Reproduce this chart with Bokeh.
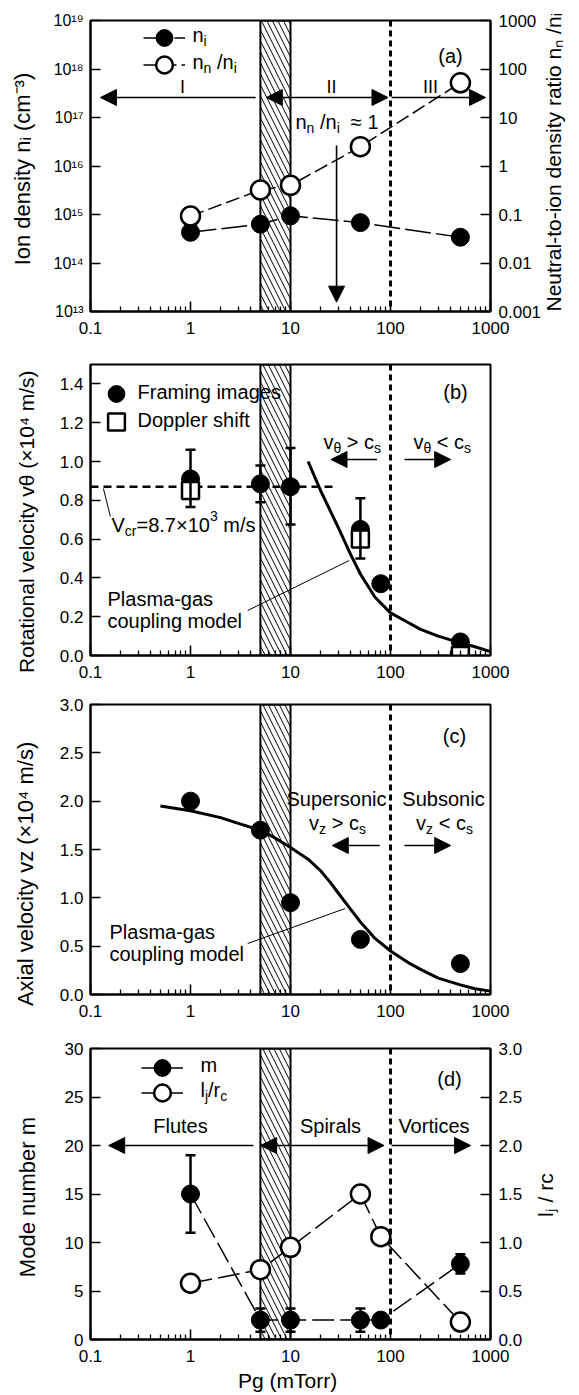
import math
from bokeh.plotting import figure
from bokeh.models import (Range1d, LogScale, LogAxis, LinearAxis, FixedTicker,
                          CustomJSTickFormatter, PrintfTickFormatter, Span, Arrow,
                          NormalHead, Label, Legend, LegendItem, Whisker, TeeHead,
                          ColumnDataSource)
from bokeh.core.properties import value
from bokeh.layouts import column
from bokeh.embed import file_html
from bokeh.resources import INLINE

FONT = "Liberation Sans"
NB = "\u00a0"

# ----------------------------- data -----------------------------
x_major_ticks = [0.1, 1, 10, 100, 1000]
x_minor_ticks = [m * d for d in (0.1, 1, 10, 100) for m in range(2, 10)]
transition_band = [5, 10]
cs_boundary = 100

# (a)
pa_pressure = [1, 5, 10, 50, 500]
pa_ion_density = [4.3e14, 6.3e14, 9.4e14, 6.8e14, 3.4e14]
pa_neutral_ratio = [0.093, 0.32, 0.40, 2.5, 52]
pa_left_ticks = [1e13, 1e14, 1e15, 1e16, 1e17, 1e18, 1e19]
pa_right_ticks = [0.001, 0.01, 0.1, 1, 10, 100, 1000]

# (b)
pb_pressure = [1, 5, 10, 50, 80, 500]
pb_v_framing = [0.91, 0.885, 0.87, 0.65, 0.37, 0.07]
pb_err_pressure = [1, 5, 10, 50]
pb_err_upper = [1.06, 0.98, 1.07, 0.81]
pb_err_lower = [0.765, 0.79, 0.675, 0.50]
pb_dop_pressure = [1, 50, 500]
pb_v_doppler = [0.85, 0.60, 0.0]
pb_model_pressure = [15, 20, 30, 40, 50, 70, 100, 150, 200, 300, 500, 700, 1000]
pb_model_v = [1.00, 0.85, 0.66, 0.52, 0.42, 0.30, 0.22, 0.17, 0.135, 0.10, 0.065, 0.045, 0.02]
pb_vcr = 0.87
pb_vcr_span = [0.1, 28]
pb_ticks = [0.0, 0.2, 0.4, 0.6, 0.8, 1.0, 1.2, 1.4]

# (c)
pc_pressure = [1, 5, 10, 50, 500]
pc_v_axial = [2.0, 1.7, 0.95, 0.57, 0.32]
pc_model_pressure = [0.5, 1, 2, 3, 5, 7, 10, 15, 20, 25, 30, 40, 50, 70, 100, 150, 200,
                     300, 500, 700, 1000]
pc_model_v = [1.95, 1.90, 1.83, 1.77, 1.70, 1.62, 1.52, 1.40, 1.28, 1.16, 1.05, 0.88, 0.75,
              0.58, 0.45, 0.33, 0.26, 0.17, 0.10, 0.06, 0.035]
pc_ticks = [0.0, 0.5, 1.0, 1.5, 2.0, 2.5, 3.0]

# (d)
pd_pressure = [1, 5, 10, 50, 80, 500]
pd_mode = [15, 2, 2, 2, 2, 7.8]
pd_err_pressure = [1, 5, 10, 50, 500]
pd_err_upper = [19, 3.2, 3.2, 3.2, 8.8]
pd_err_lower = [11, 0.8, 0.8, 0.8, 6.8]
pd_lj_rc = [0.58, 0.72, 0.95, 1.5, 1.06, 0.18]
pd_left_ticks = [0, 5, 10, 15, 20, 25, 30]
pd_right_ticks = [0.0, 0.5, 1.0, 1.5, 2.0, 2.5, 3.0]

# ----------------------------- layout helpers -----------------------------
FL = 90      # canvas x of frame left
FW = 402     # frame width
FIG_W = 579

W = {' ': 278, '(': 333, ')': 333, '-': 333, '.': 278, '/': 278, ',': 278,
     '=': 584, '<': 584, '>': 584, '×': 584, '≈': 584, 'θ': 556}
for ch in '0123456789':
    W[ch] = 556
W.update(dict(zip('abcdefghijklmnopqrstuvwxyz',
                  [556, 556, 500, 556, 556, 278, 556, 556, 222, 222, 500, 222, 833,
                   556, 556, 556, 556, 333, 500, 278, 556, 500, 722, 500, 500, 500])))
W.update(dict(zip('ABCDEFGHIJKLMNOPQRSTUVWXYZ',
                  [667, 667, 722, 722, 667, 611, 778, 722, 278, 500, 667, 556, 833,
                   722, 778, 667, 778, 722, 667, 611, 722, 667, 944, 667, 667, 611])))


def tw(s, fs):
    return sum(W.get(c, 556) for c in s) * fs / 1000.0


def rich(p, geo, parts, x, y, size=20, align="left", ratio=0.7):
    """Composite horizontal text with sub/superscripts inside the frame.
    x per align, y = centre of capitals (canvas pixels)."""
    FT, H = geo[0], geo[1]
    segs = []
    for t, k in parts:
        fs = size * ratio if k else size
        segs.append((t, k, fs, tw(t, fs)))
    L = sum(s[3] for s in segs)
    pos = {"left": 0.0, "center": -L / 2, "right": -L}[align]
    for t, k, fs, w in segs:
        up = {"": 0.0, "sub": -0.3 * size, "sup": 0.45 * size}[k]
        lead = len(t) - len(t.lstrip(" "))
        txt = t.strip(" ")
        px = x + pos + tw(" " * lead, fs)
        py = y - 0.09 * size - up
        if txt:
            p.add_layout(Label(x=px - FL, y=FT + H - py, x_units="screen", y_units="screen",
                               text=txt, text_font=FONT, text_font_size=f"{fs:.1f}px",
                               text_align="left", text_baseline="alphabetic",
                               text_color="black"))
        pos += w


def page_to_data(geo, px, py):
    FT, H, ylo, yhi, ylog = geo
    fx = (px - FL) / FW
    x = 10 ** (-1 + 4 * fx)
    fy = (FT + H - py) / H
    if ylog:
        y = 10 ** (math.log10(ylo) + fy * (math.log10(yhi) - math.log10(ylo)))
    else:
        y = ylo + fy * (yhi - ylo)
    return x, y


def head():
    return NormalHead(size=16, fill_color="black", line_color="black", line_width=1)


def arrow(p, geo, p0, p1, start=False, end=True, lw=1.6):
    x0, y0 = page_to_data(geo, *p0)
    x1, y1 = page_to_data(geo, *p1)
    p.add_layout(Arrow(x_start=x0, y_start=y0, x_end=x1, y_end=y1,
                       line_color="black", line_width=lw,
                       start=head() if start else None, end=head() if end else None))


def key(p, geo, renderers, cx, cy, gw=42, gh=45):
    FT, H = geo[0], geo[1]
    vx = cx - FL - gw / 2
    vy = (FT + H) - (cy + gh / 2)
    lg = Legend(items=[LegendItem(label=value(" "), renderers=renderers)],
                location=(vx, vy), orientation="vertical", padding=0, margin=0,
                spacing=0, glyph_width=gw, glyph_height=gh, label_height=gh,
                label_standoff=0, border_line_color=None, background_fill_alpha=0,
                label_text_font=FONT, label_text_font_size="4px")
    p.add_layout(lg)


plain_fmt = CustomJSTickFormatter(code="return String(+tick.toPrecision(6));")
pow_fmt = CustomJSTickFormatter(code="""
const s = {"0":"\u2070","1":"\u00b9","2":"\u00b2","3":"\u00b3","4":"\u2074",
           "5":"\u2075","6":"\u2076","7":"\u2077","8":"\u2078","9":"\u2079","-":"\u207b"};
const e = Math.round(Math.log10(tick));
return "10" + String(e).split("").map(c => s[c]).join("");
""")


def style_axis(ax, minor=True, standoff=8, fmt=None, ticks=None, minor_ticks=None,
               label=None, label_standoff=10, bottom_up=False, label_size="22px"):
    ax.axis_line_color = "black"
    ax.axis_line_width = 2
    ax.major_tick_in = 10
    ax.major_tick_out = 0
    ax.major_tick_line_color = "black"
    ax.major_tick_line_width = 1.6
    ax.minor_tick_in = 5
    ax.minor_tick_out = 0
    ax.minor_tick_line_width = 1.3
    ax.minor_tick_line_color = "black" if minor else None
    ax.major_label_text_font = FONT
    ax.major_label_text_font_size = "17px"
    ax.major_label_text_color = "black"
    ax.major_label_standoff = standoff
    if ticks is not None:
        ax.ticker = FixedTicker(ticks=ticks, minor_ticks=minor_ticks or [])
    if fmt is not None:
        ax.formatter = fmt
    if label is not None:
        ax.axis_label = label
        ax.axis_label_text_font = FONT
        ax.axis_label_text_font_size = label_size
        ax.axis_label_text_font_style = "normal"
        ax.axis_label_text_color = "black"
        ax.axis_label_standoff = label_standoff
        if bottom_up:
            try:
                ax.axis_label_orientation = math.pi / 2
            except Exception:
                pass
            for v in ("start", "left"):
                try:
                    ax.axis_label_align = v
                    break
                except Exception:
                    continue


def make_panel(height, top, fh, y_range, y_log=False):
    p = figure(width=FIG_W, height=height, title=None,
               x_axis_type="log", y_axis_type="log" if y_log else "linear",
               x_range=Range1d(0.1, 1000), y_range=y_range,
               toolbar_location=None, output_backend="svg",
               min_border_left=FL, min_border_right=FIG_W - FL - FW,
               min_border_top=top, min_border_bottom=height - top - fh)
    p.xgrid.visible = False
    p.ygrid.visible = False
    p.outline_line_color = "black"
    p.outline_line_width = 2
    p.outline_line_alpha = 1
    p.background_fill_color = "white"
    p.border_fill_color = "white"
    style_axis(p.xaxis[0], minor=True, standoff=10, fmt=plain_fmt,
               ticks=x_major_ticks, minor_ticks=x_minor_ticks)
    # hatched transition band
    p.quad(left=[transition_band[0]], right=[transition_band[1]],
           bottom=[y_range.start], top=[y_range.end],
           fill_color=None, line_color="black", line_width=2,
           hatch_pattern="\\", hatch_color="black", hatch_scale=11, hatch_weight=1.0)
    p.add_layout(Span(location=cs_boundary, dimension="height", line_color="black",
                      line_width=3, line_dash="6 4"))
    return p


# ============================ panel (a) ============================
GA = (20, 291, 1e13, 1e19, True)
pa = make_panel(352, 20, 291, Range1d(1e13, 1e19), y_log=True)
style_axis(pa.yaxis[0], minor=False, standoff=7, fmt=pow_fmt, ticks=pa_left_ticks,
           label="Ion density n\u1d62  (cm\u207b\u00b3)", label_standoff=16)
pa.yaxis[0].major_label_text_font_size = "16px"
pa.extra_y_ranges = {"ratio": Range1d(0.001, 1000)}
pa.extra_y_scales = {"ratio": LogScale()}
ax_r = LogAxis(y_range_name="ratio")
style_axis(ax_r, minor=False, standoff=8, fmt=plain_fmt, ticks=pa_right_ticks,
           label="Neutral-to-ion density ratio  n\u2099 /n\u1d62", label_standoff=9,
           bottom_up=True, label_size="21px")
pa.add_layout(ax_r, "right")

ln_ni = pa.line(pa_pressure, pa_ion_density, line_color="black", line_width=1.5, line_dash="26 5")
ln_r = pa.line(pa_pressure, pa_neutral_ratio, y_range_name="ratio", line_color="black",
               line_width=1.5, line_dash="14 5")
sc_ni = pa.scatter(pa_pressure, pa_ion_density, marker="circle", size=18,
                   fill_color="black", line_color="black")
sc_r = pa.scatter(pa_pressure, pa_neutral_ratio, y_range_name="ratio", marker="circle", size=19,
                  fill_color="white", line_color="black", line_width=2.5)

key(pa, GA, [ln_ni, sc_ni], 164, 37)
key(pa, GA, [ln_r, sc_r], 164, 64)
rich(pa, GA, [("n", ""), ("i", "sub")], 192, 36)
rich(pa, GA, [("n", ""), ("n", "sub"), (" /n", ""), ("i", "sub")], 192, 63)
rich(pa, GA, [("(a)", "")], 450, 57, align="center")

# region arrows
arrow(pa, GA, (256, 97), (100, 97))
arrow(pa, GA, (266.7, 97), (389, 97), start=True)
arrow(pa, GA, (392.6, 97), (487, 97))
rich(pa, GA, [("I", "")], 182, 88, size=18, align="center")
rich(pa, GA, [("II", "")], 331, 88, size=18, align="center")
rich(pa, GA, [("III", "")], 430, 88, size=18, align="center")
rich(pa, GA, [("n", ""), ("n", "sub"), (" /n", ""), ("i", "sub"), ("  \u2248 1", "")], 295, 123)
arrow(pa, GA, (337.3, 145), (337.3, 301.7))

# ============================ panel (b) ============================
GB = (364, 291, 0.0, 1.5, False)
pb = make_panel(340, 12, 291, Range1d(0, 1.5))
style_axis(pb.yaxis[0], minor=False, standoff=7, fmt=PrintfTickFormatter(format="%.1f"),
           ticks=pb_ticks, label="Rotational velocity  v\u03b8 (\u00d710\u2074 m/s)" + NB * 3,
           label_standoff=19, label_size="21px")

pb.line(pb_vcr_span, [pb_vcr, pb_vcr], line_color="black", line_width=2.5, line_dash="8 5")
pb.line(pb_model_pressure, pb_model_v, line_color="black", line_width=3)
sc_f = pb.scatter(pb_pressure, pb_v_framing, marker="circle", size=18,
                  fill_color="black", line_color="black")
sc_d = pb.scatter(pb_dop_pressure, pb_v_doppler, marker="square", size=17,
                  fill_color="white", line_color="black", line_width=2.5)
src_b = ColumnDataSource(dict(x=pb_err_pressure, up=pb_err_upper, lo=pb_err_lower))
pb.add_layout(Whisker(source=src_b, base="x", upper="up", lower="lo", dimension="height",
                      line_color="black", line_width=2.5, level="overlay",
                      upper_head=TeeHead(size=10, line_width=2.5, line_color="black"),
                      lower_head=TeeHead(size=10, line_width=2.5, line_color="black")))

key(pb, GB, [sc_f], 116, 393)
key(pb, GB, [sc_d], 116, 421)
rich(pb, GB, [("Framing images", "")], 137, 393)
rich(pb, GB, [("Doppler shift", "")], 137, 421)
rich(pb, GB, [("(b)", "")], 455, 393, align="center")
rich(pb, GB, [("v", ""), ("\u03b8", "sub"), (" > c", ""), ("s", "sub")], 323, 443)
rich(pb, GB, [("v", ""), ("\u03b8", "sub"), (" < c", ""), ("s", "sub")], 413, 443)
arrow(pb, GB, (378, 459), (331.7, 459))
arrow(pb, GB, (405.6, 459), (452, 459))
rich(pb, GB, [("V", ""), ("cr", "sub"), ("=8.7\u00d710", ""), ("3", "sup"), (" m/s", "")], 111, 526)
arrow(pb, GB, (103, 488), (110, 516), end=False, lw=1)
rich(pb, GB, [("Plasma-gas", "")], 107, 600)
rich(pb, GB, [("coupling model", "")], 107, 622)
arrow(pb, GB, (248, 610), (350, 560), end=False, lw=1)

# ============================ panel (c) ============================
GC = (704, 290, 0.0, 3.0, False)
pc = make_panel(344, 12, 290, Range1d(0, 3.0))
style_axis(pc.yaxis[0], minor=False, standoff=7, fmt=PrintfTickFormatter(format="%.1f"),
           ticks=pc_ticks, label="Axial velocity  vz  (\u00d710\u2074 m/s)" + NB * 6,
           label_standoff=19)
pc.line(pc_model_pressure, pc_model_v, line_color="black", line_width=3)
pc.scatter(pc_pressure, pc_v_axial, marker="circle", size=18, fill_color="black", line_color="black")
rich(pc, GC, [("(c)", "")], 454, 737, align="center")
rich(pc, GC, [("Supersonic", "")], 336, 800, align="center")
rich(pc, GC, [("v", ""), ("z", "sub"), (" > c", ""), ("s", "sub")], 337, 824, align="center")
rich(pc, GC, [("Subsonic", "")], 443, 800, align="center")
rich(pc, GC, [("v", ""), ("z", "sub"), (" < c", ""), ("s", "sub")], 444, 824, align="center")
arrow(pc, GC, (380.7, 845), (333, 845))
arrow(pc, GC, (405.5, 845), (452, 845))
rich(pc, GC, [("Plasma-gas", "")], 109, 933)
rich(pc, GC, [("coupling model", "")], 109, 955)
arrow(pc, GC, (248, 943), (346, 908), end=False, lw=1)

# ============================ panel (d) ============================
GD = (1048, 291, 0.0, 30.0, False)
pd = make_panel(359, 12, 291, Range1d(0, 30))
style_axis(pd.yaxis[0], minor=False, standoff=7, fmt=PrintfTickFormatter(format="%d"),
           ticks=pd_left_ticks, label="Mode number  m", label_standoff=22)
pd.xaxis[0].axis_label = "Pg  (mTorr)"
pd.xaxis[0].axis_label_text_font = FONT
pd.xaxis[0].axis_label_text_font_size = "21px"
pd.xaxis[0].axis_label_text_font_style = "normal"
pd.xaxis[0].axis_label_text_color = "black"
pd.xaxis[0].axis_label_standoff = 4
pd.extra_y_ranges = {"lj": Range1d(0, 3.0)}
ax_rd = LinearAxis(y_range_name="lj")
style_axis(ax_rd, minor=False, standoff=8, fmt=PrintfTickFormatter(format="%.1f"),
           ticks=pd_right_ticks, label=NB * 21 + "l\u2c7c / rc", label_standoff=20,
           bottom_up=True, label_size="21px")
pd.add_layout(ax_rd, "right")

ln_m = pd.line(pd_pressure, pd_mode, line_color="black", line_width=1.5, line_dash="22 6")
ln_l = pd.line(pd_pressure, pd_lj_rc, y_range_name="lj", line_color="black", line_width=1.5,
               line_dash="22 6")
src_d = ColumnDataSource(dict(x=pd_err_pressure, up=pd_err_upper, lo=pd_err_lower))
pd.add_layout(Whisker(source=src_d, base="x", upper="up", lower="lo", dimension="height",
                      line_color="black", line_width=2.5,
                      upper_head=TeeHead(size=10, line_width=2.5, line_color="black"),
                      lower_head=TeeHead(size=10, line_width=2.5, line_color="black")))
sc_m = pd.scatter(pd_pressure, pd_mode, marker="circle", size=18, fill_color="black",
                  line_color="black")
sc_l = pd.scatter(pd_pressure, pd_lj_rc, y_range_name="lj", marker="circle", size=19,
                  fill_color="white", line_color="black", line_width=2.5)

key(pd, GD, [ln_m, sc_m], 162, 1067)
key(pd, GD, [ln_l, sc_l], 162, 1092)
rich(pd, GD, [("m", "")], 200, 1066)
rich(pd, GD, [("l", ""), ("j", "sub"), ("/r", ""), ("c", "sub")], 200, 1091)
rich(pd, GD, [("(d)", "")], 449, 1080, align="center")
rich(pd, GD, [("Flutes", "")], 180, 1127, align="center")
rich(pd, GD, [("Spirals", "")], 330, 1127, align="center")
rich(pd, GD, [("Vortices", "")], 434, 1127, align="center")
arrow(pd, GD, (253.7, 1145), (108.3, 1145))
arrow(pd, GD, (261, 1145), (385, 1145), start=True)
arrow(pd, GD, (392.6, 1145), (472, 1145))

layout = column(pa, pb, pc, pd, spacing=0)
open("out.html", "w").write(file_html(layout, INLINE))
